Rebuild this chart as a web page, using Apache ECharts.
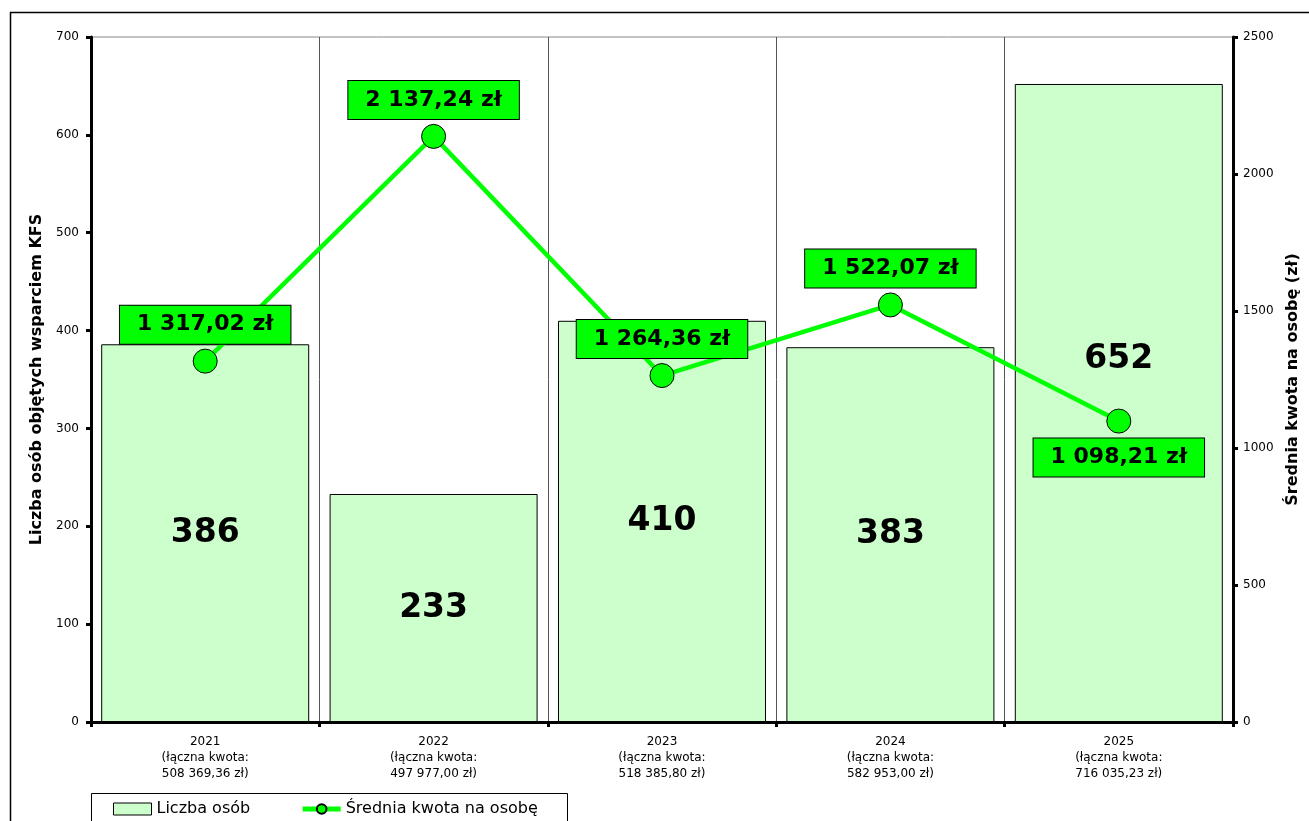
<!DOCTYPE html>
<html>
<head>
<meta charset="utf-8">
<script src="https://cdn.jsdelivr.net/npm/echarts@6/dist/echarts.min.js"></script>
<style>
html,body{margin:0;padding:0;background:#fff;}
#chart{width:1309px;height:821px;}
</style>
</head>
<body>
<div id="chart"></div>
<script>
const categories = ['2021', '2022', '2023', '2024', '2025'];
const totalAmounts = ['508 369,36 zł', '497 977,00 zł', '518 385,80 zł', '582 953,00 zł', '716 035,23 zł'];
const personCounts = [386, 233, 410, 383, 652];
const avgAmounts = [1317.02, 2137.24, 1264.36, 1522.07, 1098.21];
const avgLabelPositions = ['top', 'top', 'top', 'top', 'bottom'];
const leftTicks = { min: 0, max: 700, interval: 100 };
const rightTicks = { min: 0, max: 2500, interval: 500 };

const FONT = 'DejaVu Sans';

function fmtPL(v) {
  const parts = v.toFixed(2).split('.');
  const intPart = parts[0].replace(/\B(?=(\d{3})+(?!\d))/g, ' ');
  return intPart + ',' + parts[1] + ' zł';
}

const xLabels = categories.map((c, i) => c + '\n(łączna kwota:\n' + totalAmounts[i] + ')');

const barData = personCounts.map((v, i) => {
  const d = { value: v };
  if (i === 4) d.label = { offset: [0, -44] };
  return d;
});

const lineData = avgAmounts.map((v, i) => ({
  value: v,
  label: { position: avgLabelPositions[i] }
}));

const chart = echarts.init(document.getElementById('chart'), null, { renderer: 'canvas' });

chart.setOption({
  backgroundColor: '#ffffff',
  textStyle: { fontFamily: FONT },
  animation: false,
  grid: {
    left: 91, right: 76, top: 37, bottom: 99,
    outerBoundsMode: 'none',
    containLabel: false,
    show: true, borderColor: '#888888', borderWidth: 1, backgroundColor: '#ffffff'
  },
  graphic: [
    {
      type: 'rect', z: -1, silent: true,
      shape: { x: 10.5, y: 12.5, width: 1400, height: 900 },
      style: { fill: 'none', stroke: '#000', lineWidth: 1.5 }
    },
    {
      type: 'rect', z: 10, silent: true,
      shape: { x: 91.5, y: 793.5, width: 476, height: 40 },
      style: { fill: 'none', stroke: '#000', lineWidth: 1 }
    }
  ],
  legend: {
    left: 108, top: 796,
    itemWidth: 38, itemHeight: 12, itemGap: 50,
    textStyle: { fontFamily: FONT, fontSize: 16, color: '#000' },
    data: [
      { name: 'Liczba osób', icon: 'rect', itemStyle: { color: '#ccffcc', borderColor: '#000', borderWidth: 1 } },
      { name: 'Średnia kwota na osobę', lineStyle: { width: 5 } }
    ]
  },
  xAxis: {
    type: 'category',
    data: xLabels,
    boundaryGap: true,
    axisLine: { lineStyle: { color: '#000', width: 3 } },
    axisTick: { show: true, length: 5, lineStyle: { color: '#000', width: 3 } },
    splitLine: { show: true, lineStyle: { color: '#555555', width: 1 } },
    axisLabel: { fontFamily: FONT, fontSize: 12, color: '#000', lineHeight: 16, margin: 12, interval: 0 }
  },
  yAxis: [
    {
      type: 'value', position: 'left',
      min: leftTicks.min, max: leftTicks.max, interval: leftTicks.interval,
      name: 'Liczba osób objętych wsparciem KFS',
      nameLocation: 'middle', nameGap: 39, nameRotate: 90,
      nameTextStyle: { fontFamily: FONT, fontSize: 16, fontWeight: 'bold', color: '#000' },
      axisLine: { show: true, lineStyle: { color: '#000', width: 3 } },
      axisTick: { show: true, length: 5, lineStyle: { color: '#000', width: 3 } },
      splitLine: { show: false },
      axisLabel: { fontFamily: FONT, fontSize: 12, color: '#000', margin: 12, formatter: v => String(v) }
    },
    {
      type: 'value', position: 'right',
      min: rightTicks.min, max: rightTicks.max, interval: rightTicks.interval,
      name: 'Średnia kwota na osobę (zł)',
      nameLocation: 'middle', nameGap: 51, nameRotate: 90,
      nameTextStyle: { fontFamily: FONT, fontSize: 16, fontWeight: 'bold', color: '#000' },
      axisLine: { show: true, lineStyle: { color: '#000', width: 3 } },
      axisTick: { show: true, length: 5, lineStyle: { color: '#000', width: 3 } },
      splitLine: { show: false },
      axisLabel: { fontFamily: FONT, fontSize: 12, color: '#000', margin: 10, formatter: v => String(v) }
    }
  ],
  series: [
    {
      name: 'Liczba osób',
      type: 'bar',
      yAxisIndex: 0,
      barWidth: 208,
      data: barData,
      itemStyle: { color: '#ccffcc', borderColor: '#000', borderWidth: 1 },
      label: {
        show: true, position: 'inside',
        fontFamily: FONT, fontSize: 33, fontWeight: 'bold', color: '#000'
      },
      z: 2
    },
    {
      name: 'Średnia kwota na osobę',
      type: 'line',
      yAxisIndex: 1,
      data: lineData,
      symbol: 'circle',
      symbolSize: 24,
      lineStyle: { color: '#00ff00', width: 4.5 },
      itemStyle: { color: '#00ff00', borderColor: '#000', borderWidth: 1 },
      label: {
        show: true,
        distance: 5,
        formatter: p => fmtPL(p.value),
        fontFamily: FONT, fontSize: 22, fontWeight: 'bold', color: '#000',
        backgroundColor: '#00ff00', borderColor: '#000', borderWidth: 1,
        padding: [8, 17, 8, 17]
      },
      z: 5
    }
  ]
});
</script>
</body>
</html>
